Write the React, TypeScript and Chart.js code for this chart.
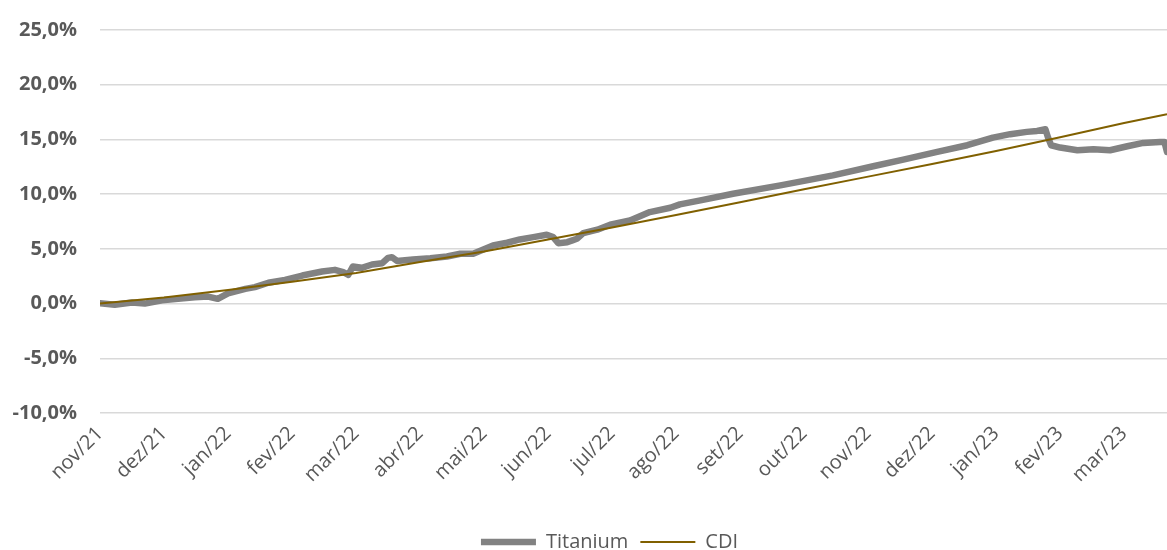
import React, { useEffect, useRef } from "react";
import { Chart, registerables } from "chart.js";

Chart.register(...registerables);

const monthLabels = [
  "nov/21", "dez/21", "jan/22", "fev/22", "mar/22", "abr/22", "mai/22", "jun/22", "jul/22",
  "ago/22", "set/22", "out/22", "nov/22", "dez/22", "jan/23", "fev/23", "mar/23",
];

const xMax = 16.67;

const titaniumX = [
  0, 0.23, 0.5, 0.7, 0.97, 1.22, 1.48, 1.69, 1.84, 2.0, 2.27, 2.42, 2.63, 2.89, 3.16, 3.47, 3.67,
  3.8, 3.88, 3.95, 4.09, 4.25, 4.41, 4.5, 4.56, 4.64, 4.89, 5.16, 5.42, 5.63, 5.83, 5.98, 6.14,
  6.36, 6.56, 6.77, 6.98, 7.08, 7.16, 7.3, 7.38, 7.45, 7.55, 7.77, 7.97, 8.28, 8.59, 8.91, 9.06,
  9.38, 9.89, 10.63, 11.45, 12.08, 12.55, 13.08, 13.55, 13.95, 14.22, 14.48, 14.64, 14.77, 14.81,
  14.86, 15.0, 15.27, 15.52, 15.78, 16.05, 16.3, 16.56, 16.63, 16.67,
];
const titaniumY = [
  0.03, -0.1, 0.1, 0.0, 0.3, 0.43, 0.58, 0.64, 0.43, 0.94, 1.34, 1.5, 1.9, 2.17, 2.56, 2.93, 3.08,
  2.87, 2.63, 3.39, 3.27, 3.57, 3.69, 4.18, 4.24, 3.9, 4.03, 4.15, 4.3, 4.55, 4.55, 4.92, 5.31,
  5.56, 5.86, 6.07, 6.29, 6.07, 5.52, 5.61, 5.77, 5.92, 6.44, 6.75, 7.2, 7.6, 8.36, 8.76, 9.07,
  9.43, 10.04, 10.8, 11.72, 12.55, 13.16, 13.86, 14.47, 15.17, 15.48, 15.69, 15.78, 15.93, 15.2,
  14.47, 14.26, 14.01, 14.1, 14.01, 14.38, 14.68, 14.77, 14.77, 13.86,
];

const cdiX = [0, 1, 2, 3, 4, 5, 6, 7, 8, 9, 10, 11, 12, 13, 14, 15, 16, 16.67];
const cdiY = [0, 0.55, 1.25, 2.0, 2.8, 3.8, 4.75, 5.85, 6.95, 8.1, 9.25, 10.45, 11.6, 12.75, 13.95, 15.2, 16.5, 17.3];

const FONT = "'Open Sans', 'Noto Sans', sans-serif";
const TEXT = "#595959";
const LEGEND_SHIFT = 26;

const legendShift = {
  id: "legendShift",
  afterLayout(chart: any) {
    if (chart.legend) {
      chart.legend.left += LEGEND_SHIFT;
      chart.legend.right += LEGEND_SHIFT;
    }
  },
};

export default function App() {
  const canvasRef = useRef<HTMLCanvasElement | null>(null);

  useEffect(() => {
    if (!canvasRef.current) return;
    const chart = new Chart(canvasRef.current, {
      type: "line",
      data: {
        datasets: [
          {
            label: "Titanium",
            data: titaniumX.map((x, i) => ({ x, y: titaniumY[i] })),
            borderColor: "#828282",
            backgroundColor: "#828282",
            borderWidth: 6.5,
            borderCapStyle: "round",
            borderJoinStyle: "round",
            pointRadius: 0,
            tension: 0,
            pointStyle: "line",
            order: 1,
          },
          {
            label: "CDI",
            data: cdiX.map((x, i) => ({ x, y: cdiY[i] })),
            borderColor: "#806000",
            backgroundColor: "#806000",
            borderWidth: 2,
            pointRadius: 0,
            tension: 0,
            pointStyle: "line",
            order: 0,
          },
        ],
      },
      plugins: [legendShift],
      options: {
        animation: false,
        responsive: true,
        maintainAspectRatio: false,
        layout: { padding: { top: 30, left: 0, right: 0, bottom: -12 } },
        plugins: {
          tooltip: { enabled: false },
          legend: {
            position: "bottom",
            labels: {
              usePointStyle: true,
              pointStyleWidth: 55,
              color: TEXT,
              font: { family: FONT, size: 20 },
              padding: 12,
              sort: (a: any, b: any) => a.datasetIndex - b.datasetIndex,
            },
          },
        },
        scales: {
          x: {
            type: "linear",
            min: 0,
            max: xMax,
            afterBuildTicks: (scale: any) => {
              scale.ticks = monthLabels.map((_, i) => ({ value: i }));
            },
            afterFit: (scale: any) => {
              scale.height = 107;
            },
            grid: { display: false, drawTicks: false },
            border: { display: false },
            ticks: {
              autoSkip: false,
              minRotation: 45,
              maxRotation: 45,
              padding: 9,
              color: TEXT,
              font: { family: FONT, size: 20 },
              callback: (v: any) => monthLabels[Math.round(Number(v))] ?? "",
            },
          },
          y: {
            min: -10,
            max: 25,
            afterFit: (scale: any) => {
              scale.width = 100;
              scale.paddingTop = 0;
              scale.paddingBottom = 0;
            },
            grid: { color: "#D9D9D9", lineWidth: 1.5, drawTicks: false },
            border: { display: false },
            ticks: {
              stepSize: 5,
              padding: 23,
              color: TEXT,
              font: { family: FONT, size: 20, weight: "bold" },
              callback: (v: any) => Number(v).toFixed(1).replace(".", ",") + "%",
            },
          },
        },
      },
    });
    return () => chart.destroy();
  }, []);

  return (
    <div style={{ position: "fixed", left: 0, top: 0, width: 1167, height: 550 }}>
      <canvas ref={canvasRef} />
    </div>
  );
}
